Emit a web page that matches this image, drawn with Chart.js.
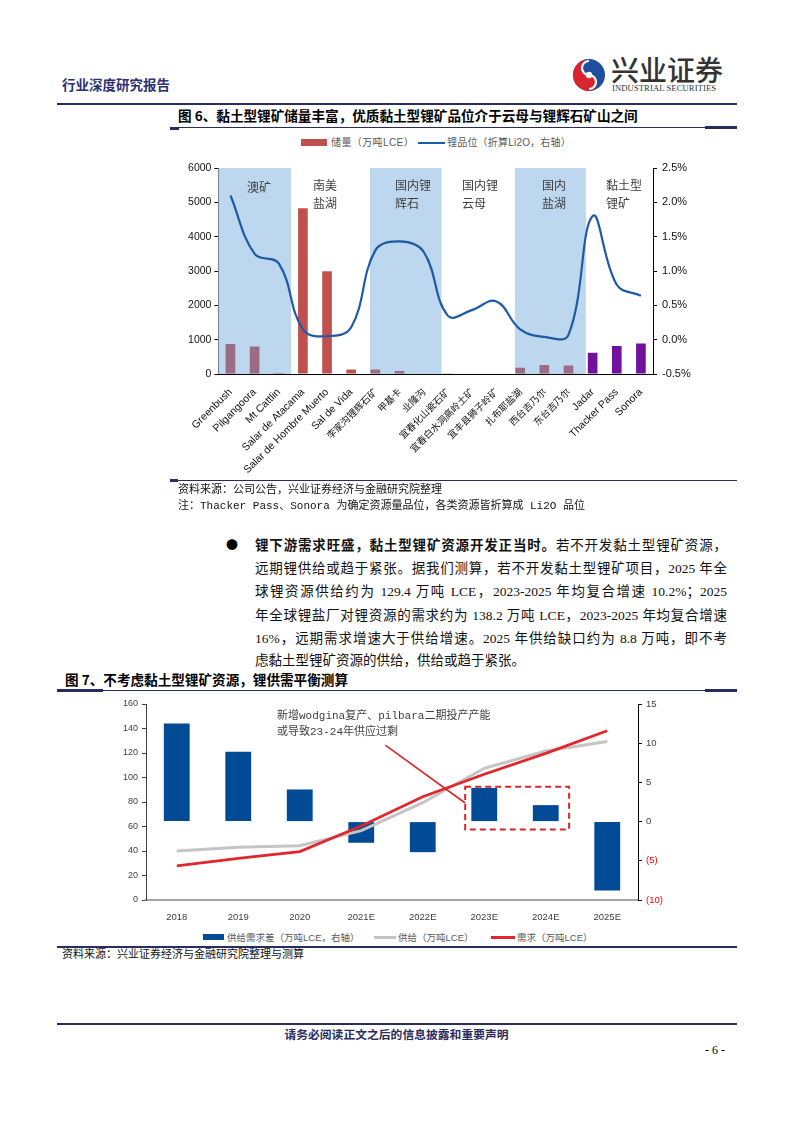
<!DOCTYPE html>
<html><head><meta charset="utf-8">
<script src="https://cdn.jsdelivr.net/npm/chart.js@4.4.0/dist/chart.umd.min.js"></script>
<style>
html,body{margin:0;padding:0;background:#fff;}
body{width:793px;height:1122px;position:relative;overflow:hidden;font-family:"Noto Sans CJK SC",sans-serif;color:#000;}
.abs{position:absolute;white-space:nowrap;line-height:1;}
.navy{background:#2b2c5e;position:absolute;}
.src{font-family:"Liberation Mono","Noto Sans CJK SC",monospace;font-size:11px;color:#111;}
.body{position:absolute;left:255px;width:472px;font-family:"Liberation Serif","Noto Sans CJK SC",serif;font-size:13.5px;line-height:1;white-space:nowrap;text-align:justify;text-align-last:justify;color:#111;}
.lg{font-size:9.5px;color:#595959;font-family:"Liberation Sans","Noto Sans CJK SC",sans-serif;}
</style></head><body>

<!-- header -->
<div class="abs" style="left:62px;top:78px;font-size:13.5px;font-weight:bold;color:#2e3070;">行业深度研究报告</div>
<svg class="abs" style="left:572px;top:58px" width="34" height="34" viewBox="0 0 34 34">
  <circle cx="17" cy="17" r="16" fill="#1f4e9e"/>
  <path d="M17 1 A16 16 0 0 0 17 33 A8 8 0 0 0 17 17 A8 8 0 0 1 17 1 Z" fill="#d8262c"/>
  <path d="M17 3 A7 7 0 0 0 17 17 A7 7 0 0 1 17 31" fill="none" stroke="#fff" stroke-width="2.2"/>
  <circle cx="17" cy="17" r="3.2" fill="#fff"/>
</svg>
<div class="abs" style="left:611px;top:55px;font-size:28px;color:#333;font-weight:500;">兴业证券</div>
<div class="abs" style="left:612px;top:84px;font-size:8.6px;color:#333;font-family:'Liberation Serif',serif;letter-spacing:0.1px;">INDUSTRIAL SECURITIES</div>
<div class="navy" style="left:57px;top:103px;width:680px;height:1.5px;"></div>

<!-- figure 6 title -->
<div class="abs" style="left:178px;top:109px;font-size:13.6px;font-weight:bold;">图 6、黏土型锂矿储量丰富，优质黏土型锂矿品位介于云母与锂辉石矿山之间</div>
<div class="navy" style="left:170px;top:127px;width:567px;height:1px;"></div>
<div class="navy" style="left:170px;top:127px;width:9px;height:3px;"></div>
<div class="navy" style="left:705px;top:126px;width:32px;height:3px;"></div>

<!-- figure 6 legend -->
<div class="abs" style="left:301px;top:139px;width:26px;height:7px;background:#c0504d;"></div>
<div class="abs lg" style="left:331px;top:137.5px;font-size:10px;letter-spacing:0.4px;">储量（万吨LCE）</div>
<div class="abs" style="left:418px;top:142px;width:27px;height:2px;background:#1f5aa6;"></div>
<div class="abs lg" style="left:447px;top:137.5px;font-size:10px;letter-spacing:0.2px;">锂品位（折算Li2O，右轴）</div>

<div class="abs" style="left:170px;top:130px;"><canvas id="c1" width="530" height="350"></canvas></div>

<!-- figure 6 source -->
<div class="navy" style="left:170px;top:480px;width:567px;height:1px;"></div>
<div class="navy" style="left:170px;top:479px;width:8px;height:3px;"></div>
<div class="abs src" style="left:178px;top:484.5px;">资料来源：公司公告，兴业证券经济与金融研究院整理</div>
<div class="abs src" style="left:178px;top:500.5px;">注：Thacker Pass、Sonora 为确定资源量品位，各类资源皆折算成 Li2O 品位</div>

<!-- body text -->
<div class="abs" style="left:226px;top:539px;font-size:12px;">●</div>
<div class="body" style="top:538px;"><b style="font-family:'Noto Sans CJK SC';">锂下游需求旺盛，黏土型锂矿资源开发正当时。</b>若不开发黏土型锂矿资源，</div>
<div class="body" style="top:561.5px;">远期锂供给或趋于紧张。据我们测算，若不开发黏土型锂矿项目，2025 年全</div>
<div class="body" style="top:585px;">球锂资源供给约为 129.4 万吨 LCE，2023-2025 年均复合增速 10.2%；2025</div>
<div class="body" style="top:608.5px;">年全球锂盐厂对锂资源的需求约为 138.2 万吨 LCE，2023-2025 年均复合增速</div>
<div class="body" style="top:632px;">16%，远期需求增速大于供给增速。2025 年供给缺口约为 8.8 万吨，即不考</div>
<div class="body" style="top:654px;text-align:left;text-align-last:left;">虑黏土型锂矿资源的供给，供给或趋于紧张。</div>

<!-- figure 7 title -->
<div class="abs" style="left:65px;top:673px;font-size:13.6px;font-weight:bold;">图 7、不考虑黏土型锂矿资源，锂供需平衡测算</div>
<div class="navy" style="left:57px;top:690px;width:680px;height:1px;"></div>
<div class="navy" style="left:57px;top:689px;width:46px;height:3px;"></div>
<div class="navy" style="left:705px;top:689px;width:32px;height:3px;"></div>

<div class="abs" style="left:60px;top:690px;"><canvas id="c2" width="680" height="230"></canvas></div>

<!-- figure 7 legend -->
<div class="abs" style="left:203px;top:934px;width:21px;height:6px;background:#014b96;"></div>
<div class="abs lg" style="left:227px;top:932.5px;">供给需求差（万吨LCE，右轴）</div>
<div class="abs" style="left:374px;top:936px;width:22px;height:3px;background:#c4c4c4;"></div>
<div class="abs lg" style="left:398px;top:932.5px;">供给（万吨LCE）</div>
<div class="abs" style="left:491px;top:936px;width:24px;height:3px;background:#e3262b;"></div>
<div class="abs lg" style="left:517px;top:932.5px;">需求（万吨LCE）</div>

<div class="navy" style="left:57px;top:946px;width:680px;height:2px;"></div>
<div class="abs src" style="left:62px;top:950px;">资料来源：兴业证券经济与金融研究院整理与测算</div>

<!-- footer -->
<div class="navy" style="left:57px;top:1023px;width:680px;height:2px;"></div>
<div class="abs" style="left:0;width:793px;top:1028px;text-align:center;font-size:11.8px;font-weight:bold;color:#2b2c5e;">请务必阅读正文之后的信息披露和重要声明</div>
<div class="abs" style="left:705px;top:1044px;font-size:12px;font-family:'Liberation Serif',serif;">- 6 -</div>

<script>
// ===== Figure 6 data =====
const mineNames = ['Greenbush','Pilgangoora','Mt Cattlin','Salar de Atacama','Salar de Hombre Muerto','Sal de Vida',
  '李家沟锂辉石矿','甲基卡','业隆沟','宜春化山瓷石矿','宜春白水洞高岭土矿','宜丰县狮子岭矿',
  '扎布耶盐湖','西台吉乃尔','东台吉乃尔','Jadar','Thacker Pass','Sonora'];
const mineGroups = ['au','au','au','sa','sa','sa','cnSpod','cnSpod','cnSpod','cnMica','cnMica','cnMica',
  'cnBrine','cnBrine','cnBrine','clay','clay','clay'];
const reserves = [875, 800, 30, 4830, 2995, 128, 128, 88, 0, 20, 0, 0, 185, 262, 245, 620, 818, 885];
const liGrade = [2.10, 1.25, 1.11, 0.15, 0.05, 0.18, 1.30, 1.43, 1.28, 0.35, 0.43, 0.56, 0.15, 0.04, 0.07, 1.80, 0.80, 0.64];
const reserveAxis = {min:0, max:6000, step:1000};
const gradeAxis = {min:-0.5, max:2.5, step:0.5};

const groupColors = {au:'#9b6c86', sa:'#c0504d', cnSpod:'#9b6c86', cnMica:'#c0504d', cnBrine:'#9b6c86', clay:'#70129e'};
const bandRanges = [[-0.5, 2.51], [5.78, 8.74], [11.78, 14.72]];
const bandLabels = [
  {lines:['澳矿'], at:0.68, y:[5420]},
  {lines:['南美','盐湖'], at:3.42, y:[5480, 4955]},
  {lines:['国内锂','辉石'], at:6.81, y:[5480, 4955]},
  {lines:['国内锂','云母'], at:9.59, y:[5480, 4955]},
  {lines:['国内','盐湖'], at:12.9, y:[5480, 4955]},
  {lines:['黏土型','锂矿'], at:15.55, y:[5480, 4955]}
];

// ===== Figure 7 data =====
const years = ['2018','2019','2020','2021E','2022E','2023E','2024E','2025E'];
const balance = [12.5, 8.9, 4.1, -2.7, -3.9, 4.3, 2.1, -8.8];
const supply = [40, 43, 44.3, 56.6, 79.4, 107.5, 121.6, 129.4];
const demand = [27.8, 34, 39.5, 60.4, 84.3, 102.6, 119.7, 138.2];
const leftAxis2 = {min:0, max:160, step:20};
const rightAxis2 = {min:-10, max:15, step:5};
const noteLines = ['新增wodgina复产、pilbara二期投产产能', '或导致23-24年供应过剩'];

Chart.defaults.font.family = '"Liberation Sans","Noto Sans CJK SC",sans-serif';

const cjk = s => /[\u4e00-\u9fff]/.test(s);

const bandPlugin = {
  id:'bands',
  beforeDatasetsDraw(chart){
    const {ctx, chartArea:{top,bottom}, scales:{x,y}} = chart;
    ctx.save();
    ctx.fillStyle = '#bdd7ee';
    bandRanges.forEach(([a,b])=>{
      const x0 = x.getPixelForValue(a), x1 = x.getPixelForValue(b);
      ctx.fillRect(x0, top, x1-x0, bottom-top);
    });
    ctx.fillStyle = '#404040';
    ctx.font = '12px "Noto Sans CJK SC"';
    ctx.textBaseline = 'middle';
    ctx.textAlign = 'left';
    bandLabels.forEach(l=>{
      const px = x.getPixelForValue(l.at);
      l.lines.forEach((t,i)=>ctx.fillText(t, px, y.getPixelForValue(l.y[i])));
    });
    ctx.restore();
  }
};

new Chart(document.getElementById('c1'), {
  type:'bar',
  data:{
    labels: mineNames,
    datasets:[
      {type:'line', label:'锂品位（折算Li2O，右轴）', data: liGrade, yAxisID:'y1', borderColor:'#1f5aa6', borderWidth:2.2,
       pointRadius:0, tension:0.4, order:0},
      {type:'bar', label:'储量（万吨LCE）', data: reserves, yAxisID:'y', backgroundColor: mineGroups.map(g=>groupColors[g]),
       barPercentage:0.4, categoryPercentage:1, order:1}
    ]
  },
  options:{
    responsive:false, animation:false,
    layout:{padding:{top:38, left:0, right:0, bottom:0}},
    plugins:{legend:{display:false}, tooltip:{enabled:false}},
    scales:{
      x:{
        grid:{display:false}, border:{display:true, color:'#000', width:1},
        ticks:{autoSkip:false, maxRotation:45, minRotation:45, padding:4, color:'#111',
          font: c => cjk(mineNames[c.index] || '') ? {size:9.5, family:'"Noto Sans CJK SC"'} : {size:10.5, family:'"Liberation Sans"'}},
        afterFit: s => { s.height = 106; }
      },
      y:{
        position:'left', min:reserveAxis.min, max:reserveAxis.max,
        ticks:{stepSize:reserveAxis.step, color:'#111', font:{size:10.5}, padding:3, callback:v=>String(v)},
        grid:{drawOnChartArea:false, drawTicks:true, tickLength:4, color:'#000'},
        border:{display:true, color:'#000', width:1},
        afterFit: s => { s.width = 48.4; }
      },
      y1:{
        position:'right', min:gradeAxis.min, max:gradeAxis.max,
        ticks:{stepSize:gradeAxis.step, color:'#111', font:{size:11}, padding:5, callback:v=>Number(v).toFixed(1)+'%'},
        grid:{drawOnChartArea:false, drawTicks:true, tickLength:4, color:'#000'},
        border:{display:true, color:'#000', width:1},
        afterFit: s => { s.width = 47; }
      }
    }
  },
  plugins:[bandPlugin]
});

const notePlugin = {
  id:'note',
  afterDatasetsDraw(chart){
    const {ctx, scales:{x,y,y1}} = chart;
    ctx.save();
    ctx.strokeStyle = '#d7262b';
    ctx.lineWidth = 2;
    ctx.setLineDash([6,4]);
    const bx0 = x.getPixelForValue(4.69), bx1 = x.getPixelForValue(6.38);
    const by0 = y1.getPixelForValue(4.45), by1 = y1.getPixelForValue(-1.0);
    ctx.strokeRect(bx0, by0, bx1-bx0, by1-by0);
    ctx.setLineDash([]);
    ctx.lineWidth = 1.6;
    ctx.beginPath();
    ctx.moveTo(x.getPixelForValue(3.39), y.getPixelForValue(126.5));
    ctx.lineTo(x.getPixelForValue(4.69), y.getPixelForValue(79.2));
    ctx.stroke();
    ctx.fillStyle = '#404040';
    ctx.font = '11px "Liberation Mono","Noto Sans CJK SC"';
    ctx.textBaseline = 'middle';
    ctx.textAlign = 'left';
    ctx.fillText(noteLines[0], x.getPixelForValue(1.63), y.getPixelForValue(150.4));
    ctx.fillText(noteLines[1], x.getPixelForValue(1.63), y.getPixelForValue(137.4));
    ctx.restore();
  }
};

new Chart(document.getElementById('c2'), {
  type:'bar',
  data:{
    labels: years,
    datasets:[
      {type:'line', label:'需求（万吨LCE）', data: demand, yAxisID:'y', borderColor:'#e3262b', borderWidth:2.7, pointRadius:0, tension:0, order:0},
      {type:'line', label:'供给（万吨LCE）', data: supply, yAxisID:'y', borderColor:'#c4c4c4', borderWidth:3, pointRadius:0, tension:0, order:1},
      {type:'bar', label:'供给需求差（万吨LCE，右轴）', data: balance, yAxisID:'y1', backgroundColor:'#014b96',
       barPercentage:0.42, categoryPercentage:1, order:2}
    ]
  },
  options:{
    responsive:false, animation:false,
    layout:{padding:{top:14, left:0, right:0, bottom:0}},
    plugins:{legend:{display:false}, tooltip:{enabled:false}},
    scales:{
      x:{
        grid:{display:false}, border:{display:true, color:'#a6a6a6', width:2},
        ticks:{color:'#404040', font:{size:9.5}, padding:4, maxRotation:0},
        afterFit: s => { s.height = 20; }
      },
      y:{
        position:'left', min:leftAxis2.min, max:leftAxis2.max,
        ticks:{stepSize:leftAxis2.step, color:'#404040', font:{size:9}, padding:4, callback:v=>String(v)},
        grid:{drawOnChartArea:false, drawTicks:true, tickLength:4, color:'#404040'},
        border:{display:true, color:'#404040', width:1},
        afterFit: s => { s.width = 86; }
      },
      y1:{
        position:'right', min:rightAxis2.min, max:rightAxis2.max,
        ticks:{stepSize:rightAxis2.step, font:{size:9.5}, padding:4,
          color: c => (c.tick && c.tick.value < 0) ? '#ff0000' : '#404040',
          callback: v => v < 0 ? '(' + Math.abs(v) + ')' : String(v)},
        grid:{drawOnChartArea:false, drawTicks:true, tickLength:4, color:'#000'},
        border:{display:true, color:'#000', width:1},
        afterFit: s => { s.width = 102; }
      }
    }
  },
  plugins:[notePlugin]
});
</script>
</body></html>
